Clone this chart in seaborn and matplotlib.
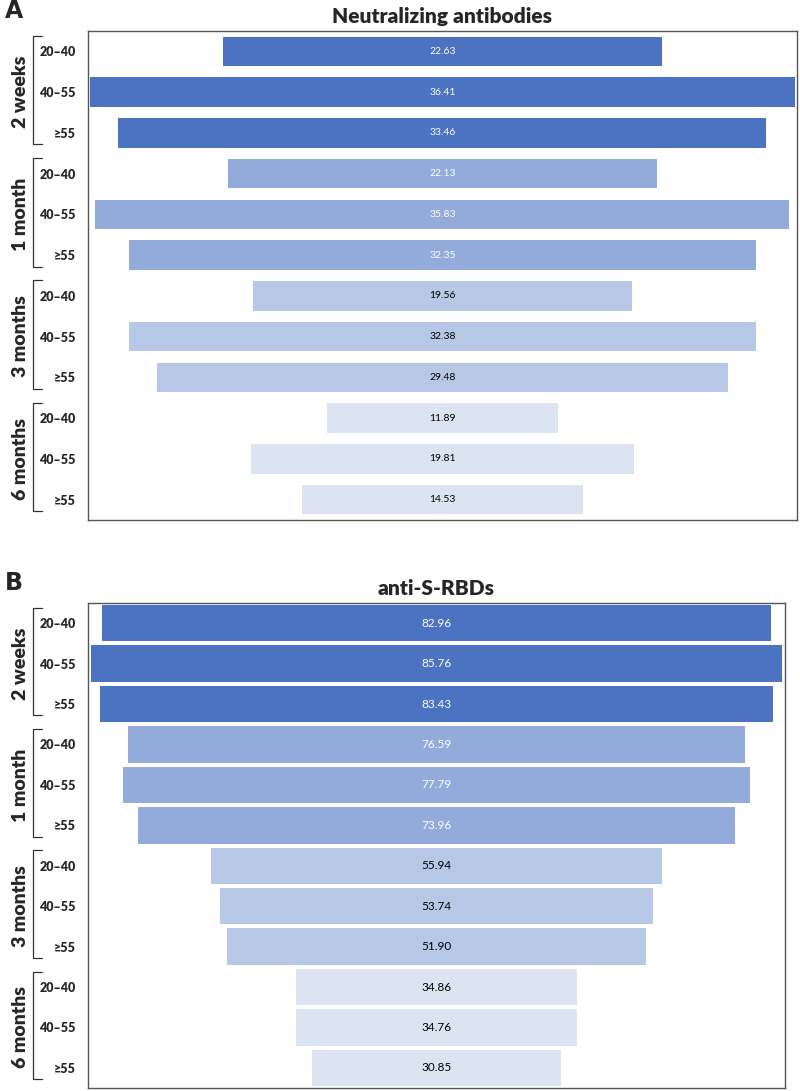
"""
Funnel plots of antibody levels by time after vaccination and age group.
"""

import matplotlib.pyplot as plt
import matplotlib.transforms as mtransforms
import pandas as pd
import seaborn as sns

# Data
PERIODS = ["2 weeks", "1 month", "3 months", "6 months"]
AGE_GROUPS = ["20–40", "40–55", "≥55"]
NEUTRALIZING = [22.63, 36.41, 33.46, 22.13, 35.83, 32.35,
                19.56, 32.38, 29.48, 11.89, 19.81, 14.53]
ANTI_S_RBD = [82.96, 85.76, 83.43, 76.59, 77.79, 73.96,
              55.94, 53.74, 51.90, 34.86, 34.76, 30.85]

PALETTE = ["#4B73C1", "#93ABDB", "#B6C8E6", "#DCE4F2"]
TEXT_COLORS = ["white", "white", "black", "black"]

sns.set_theme(style="white")
plt.rcParams['font.family'] = ['Lato', 'DejaVu Sans']


def build_frame(values):
    rows = []
    for i, v in enumerate(values):
        period = PERIODS[i // 3]
        age = AGE_GROUPS[i % 3]
        rows.append({"row": f"{period} {age}", "period": period, "age": age,
                     "value": v, "half": v / 2, "neg": -v / 2})
    return pd.DataFrame(rows)


def draw_funnel(fig, ax, values, title, letter, xlim, bar_width, label_size):
    df = build_frame(values)
    for col in ["half", "neg"]:
        sns.barplot(data=df, y="row", x=col, hue="period", palette=PALETTE,
                    saturation=1, dodge=False, width=bar_width, linewidth=0,
                    legend=False, orient="h", ax=ax)
    for i, v in enumerate(values):
        ax.text(0, i, f"{v:.2f}", ha="center", va="center",
                fontsize=label_size, color=TEXT_COLORS[i // 3])

    ax.set_xlim(-xlim, xlim)
    ax.set_ylim(11.5, -0.5)
    ax.set_xticks([])
    ax.set_xlabel("")
    ax.set_ylabel("")
    ax.set_yticks(range(12))
    ax.set_yticklabels(df["age"], fontweight="heavy", fontsize=9)
    ax.tick_params(axis="y", length=0, pad=9)
    for s in ax.spines.values():
        s.set_visible(True)
        s.set_color("#555555")
        s.set_linewidth(1.0)

    ax.set_title(title, fontweight="heavy", fontsize=15, pad=6)

    # group brackets and labels
    trans = mtransforms.blended_transform_factory(fig.transFigure, ax.transData)
    x_line, x_tick, x_lab = 0.041, 0.052, 0.025
    for g, period in enumerate(PERIODS):
        y0, y1 = g * 3 - 0.38, g * 3 + 2.28
        ax.plot([x_tick, x_line, x_line, x_tick], [y0, y0, y1, y1],
                color="#333333", lw=0.9, transform=trans, clip_on=False)
        ax.text(x_lab, g * 3 + 1, period, rotation=90, ha="center", va="center",
                fontweight="heavy", fontsize=14, transform=trans)

    fig.text(0.006, ax.get_position().y1 + 0.012, letter,
             fontweight="bold", fontsize=17, family="DejaVu Sans")


def main():
    fig = plt.figure(figsize=(8, 10.91), dpi=100)
    ax_a = fig.add_axes([0.11, 0.5234, 0.886, 0.4482])
    ax_b = fig.add_axes([0.11, 0.0027, 0.871, 0.4446])

    draw_funnel(fig, ax_a, NEUTRALIZING, "Neutralizing antibodies", "A",
                18.3, 0.72, 7.5)
    draw_funnel(fig, ax_b, ANTI_S_RBD, "anti-S-RBDs", "B", 43.2, 0.9, 8.5)

    fig.savefig("out.png", dpi=100)
    plt.close(fig)


if __name__ == "__main__":
    main()
